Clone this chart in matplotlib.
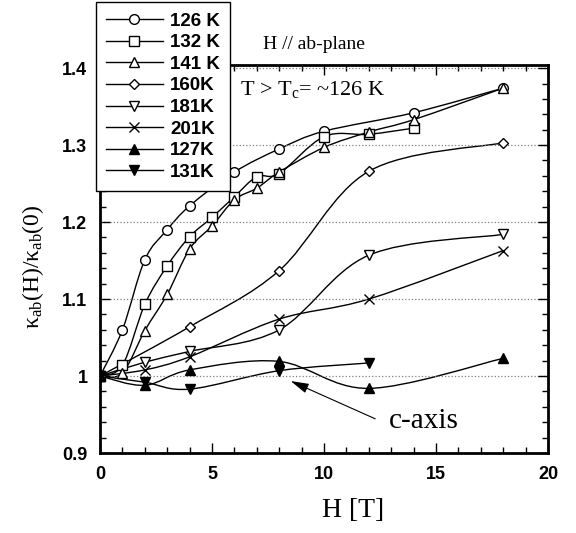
import numpy as np
import matplotlib
matplotlib.use('Agg')
import matplotlib.pyplot as plt
from matplotlib.path import Path
from matplotlib.patches import PathPatch
from matplotlib.lines import Line2D
from matplotlib.ticker import MultipleLocator, FuncFormatter

plt.rcParams['mathtext.fontset'] = 'custom'
plt.rcParams['mathtext.rm'] = 'Liberation Serif'
plt.rcParams['mathtext.it'] = 'Liberation Serif:italic'

# data
h_126 = [0, 1, 2, 3, 4, 6, 8, 10, 14, 18]
k_126 = [1.0, 1.060, 1.151, 1.190, 1.221, 1.265, 1.295, 1.318, 1.342, 1.374]
h_132 = [0, 1, 2, 3, 4, 5, 6, 7, 8, 10, 12, 14]
k_132 = [1.0, 1.014, 1.093, 1.143, 1.181, 1.206, 1.233, 1.259, 1.263, 1.311, 1.314, 1.322]
h_141 = [0, 1, 2, 3, 4, 5, 6, 7, 8, 10, 12, 14, 18]
k_141 = [1.0, 1.004, 1.059, 1.106, 1.165, 1.195, 1.229, 1.244, 1.265, 1.297, 1.317, 1.333, 1.374]
h_160 = [0, 4, 8, 12, 18]
k_160 = [1.0, 1.064, 1.137, 1.266, 1.303]
h_181 = [0, 2, 4, 8, 12, 18]
k_181 = [1.0, 1.018, 1.032, 1.060, 1.157, 1.184]
h_201 = [0, 2, 4, 8, 12, 18]
k_201 = [1.0, 1.008, 1.025, 1.074, 1.100, 1.163]
h_127 = [0, 2, 4, 8, 12, 18]
k_127 = [1.0, 0.988, 1.008, 1.019, 0.984, 1.023]
h_131 = [0, 2, 4, 8, 12]
k_131 = [1.0, 0.992, 0.983, 1.007, 1.017]

series = [
    (h_126, k_126, 'o', 'white', '126 K'),
    (h_132, k_132, 's', 'white', '132 K'),
    (h_141, k_141, '^', 'white', '141 K'),
    (h_160, k_160, 'D', 'white', '160K'),
    (h_181, k_181, 'v', 'white', '181K'),
    (h_201, k_201, 'x', 'white', '201K'),
    (h_127, k_127, '^', 'black', '127K'),
    (h_131, k_131, 'v', 'black', '131K'),
]


def smooth_path(x, y):
    # catmull-rom curve through the points, as bezier segments
    p = np.column_stack([x, y]).astype(float)
    pts = np.vstack([p[0], p, p[-1]])
    verts = [p[0]]
    codes = [Path.MOVETO]
    for i in range(1, len(pts) - 2):
        c1 = pts[i] + (pts[i + 1] - pts[i - 1]) / 6
        c2 = pts[i + 1] - (pts[i + 2] - pts[i]) / 6
        verts += [c1, c2, pts[i + 1]]
        codes += [Path.CURVE4] * 3
    return Path(verts, codes)


fig = plt.figure(figsize=(5.76, 5.33), dpi=100)
ax = fig.add_axes([0.1736, 0.150, 0.7778, 0.728])

handles = []
for x, y, m, fc, lab in series:
    ax.add_patch(PathPatch(smooth_path(x, y), fill=False, color='black', lw=1))
    ms = 5.5 if m == 'D' else 7
    ax.plot(x, y, linestyle='none', marker=m, ms=ms, mfc=fc, mec='black', mew=1, zorder=3)
    handles.append(Line2D([], [], color='black', lw=1, marker=m, ms=ms, mfc=fc, mec='black', mew=1, label=lab))

ax.set_xlim(0, 20)
ax.set_ylim(0.9, 1.404)
ax.xaxis.set_major_locator(MultipleLocator(5))
ax.xaxis.set_minor_locator(MultipleLocator(1))
ax.yaxis.set_major_locator(MultipleLocator(0.1))
ax.yaxis.set_minor_locator(MultipleLocator(0.02))
ax.yaxis.set_major_formatter(FuncFormatter(lambda v, p: '%g' % round(v, 2)))
ax.tick_params(which='both', direction='in', top=True, right=True, width=1)
ax.tick_params(which='major', length=7, pad=9)
ax.tick_params(which='minor', length=4)
for lab in ax.get_xticklabels() + ax.get_yticklabels():
    lab.set_fontfamily('Liberation Sans')
    lab.set_fontweight('bold')
    lab.set_fontsize(13)
for sp in ax.spines.values():
    sp.set_linewidth(2)
ax.grid(axis='y', which='major', linestyle=':', color='gray', lw=0.9)

ax.set_xlabel('H [T]', family='Liberation Serif', fontsize=20)
ax.xaxis.set_label_coords(0.565, -0.115)
ax.set_ylabel(r'κ$_\mathregular{ab}$(H)/κ$_\mathregular{ab}$(0)', family='Liberation Serif', fontsize=17)
ax.yaxis.set_label_coords(-0.12, 0.48)

ax.text(6.25, 1.372, r'T > T$_\mathregular{c}$= ~126 K', family='Liberation Serif', fontsize=16, va='center')
fig.text(0.457, 0.916, 'H // ab-plane', family='Liberation Serif', fontsize=14, va='center')

ax.annotate('', xy=(8.4, 0.995), xytext=(12.4, 0.943),
            arrowprops=dict(arrowstyle='-|>,head_length=1.1,head_width=0.3', color='black', lw=0.8))
ax.text(12.9, 0.941, 'c-axis', family='Liberation Serif', fontsize=21, va='center')

leg = fig.legend(handles=handles, loc='upper left', bbox_to_anchor=(0.1667, 0.996), borderaxespad=0,
                 prop={'family': 'Liberation Sans', 'weight': 'bold', 'size': 13.5},
                 handlelength=3.0, labelspacing=0.24, borderpad=0.55, handletextpad=0.4,
                 fancybox=False, edgecolor='black', framealpha=1)
leg.get_frame().set_linewidth(1)

fig.savefig('out.png', dpi=100)
